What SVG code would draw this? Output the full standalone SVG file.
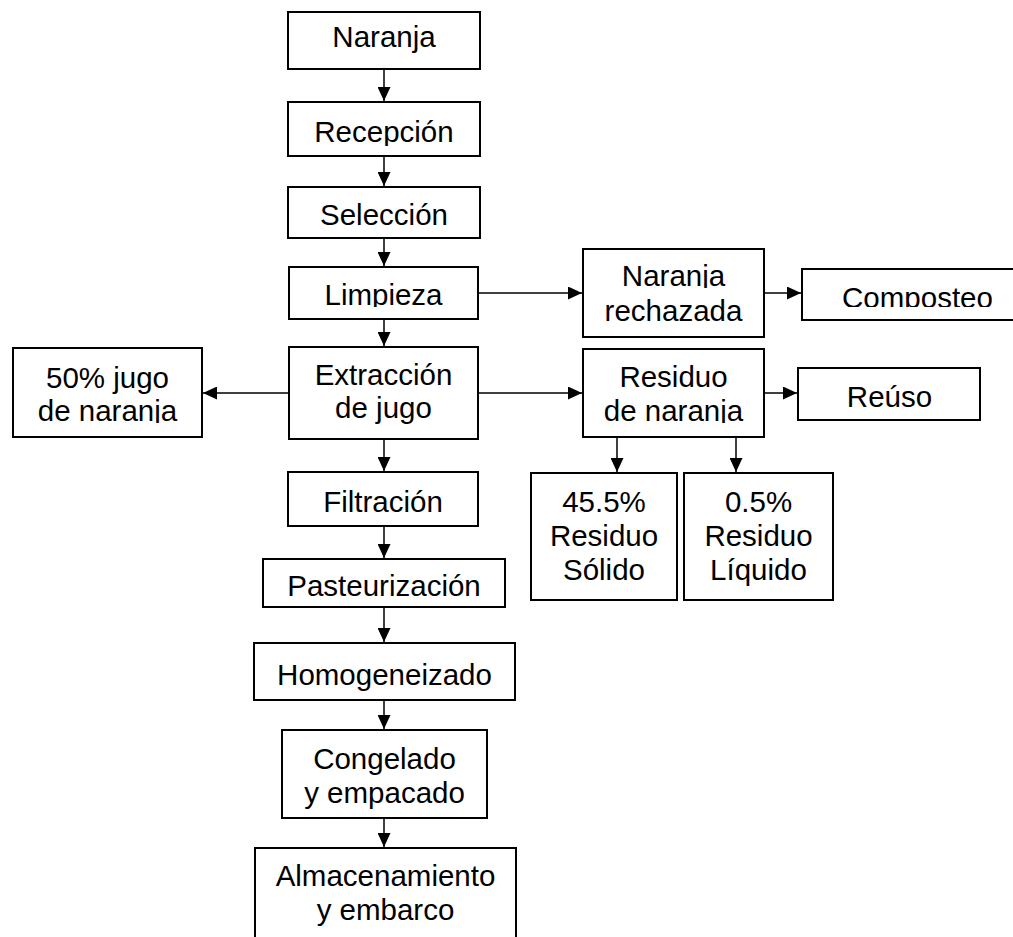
<svg xmlns="http://www.w3.org/2000/svg" width="1013" height="937" viewBox="0 0 1013 937">
<style>
.box{fill:#fff;stroke:#000;stroke-width:2}
.t{font-family:"Liberation Sans",Arial,sans-serif;font-size:29.5px;text-anchor:middle;fill:#000}
.c{stroke:#000;stroke-width:1.5;fill:none;marker-end:url(#ah)}
</style>
<defs>
<marker id="ah" viewBox="0 0 14 13" refX="14" refY="6.5" markerWidth="14" markerHeight="13" markerUnits="userSpaceOnUse" orient="auto"><path d="M0,0 L14,6.5 L0,13 z" fill="#000"/></marker>
<clipPath id="cRec"><rect x="280" y="100" width="210" height="46"/></clipPath>
<clipPath id="cLim"><rect x="280" y="260" width="210" height="47"/></clipPath>
<clipPath id="cNR"><rect x="570" y="240" width="200" height="48"/></clipPath>
<clipPath id="cCom"><rect x="800" y="260" width="220" height="47"/></clipPath>
<clipPath id="cRN"><rect x="570" y="395" width="200" height="28"/></clipPath>
<clipPath id="cJN"><rect x="0" y="395" width="210" height="28"/></clipPath>
<clipPath id="cPas"><rect x="250" y="550" width="260" height="46"/></clipPath>
</defs>
<rect width="1013" height="937" fill="#fff"/>
<g id="connectors">
<line class="c" x1="384" y1="70" x2="384" y2="101"/>
<line class="c" x1="384" y1="157" x2="384" y2="186"/>
<line class="c" x1="384" y1="239" x2="384" y2="266"/>
<line class="c" x1="384" y1="320" x2="384" y2="346"/>
<line class="c" x1="384" y1="440" x2="384" y2="471"/>
<line class="c" x1="384" y1="527" x2="384" y2="558"/>
<line class="c" x1="384" y1="608" x2="384" y2="642"/>
<line class="c" x1="384" y1="701" x2="384" y2="729"/>
<line class="c" x1="384" y1="819" x2="384" y2="847"/>
<line class="c" x1="479" y1="293" x2="582" y2="293"/>
<line class="c" x1="765" y1="293" x2="801" y2="293"/>
<line class="c" x1="288" y1="393" x2="203" y2="393"/>
<line class="c" x1="479" y1="393" x2="582" y2="393"/>
<line class="c" x1="765" y1="393" x2="797" y2="393"/>
<line class="c" x1="617" y1="438" x2="617" y2="472"/>
<line class="c" x1="736" y1="438" x2="736" y2="472"/>
</g>
<g id="n-naranja"><rect class="box" x="288" y="12" width="192" height="57"/><text class="t" x="384" y="47">Naranja</text></g>
<g id="n-recepcion"><rect class="box" x="288" y="102" width="192" height="54"/><g clip-path="url(#cRec)"><text class="t" x="384" y="142">Recepción</text></g></g>
<g id="n-seleccion"><rect class="box" x="288" y="187" width="192" height="51"/><text class="t" x="384" y="225">Selección</text></g>
<g id="n-limpieza"><rect class="box" x="289" y="267" width="189" height="52"/><g clip-path="url(#cLim)"><text class="t" x="383.5" y="305">Limpieza</text></g></g>
<g id="n-extraccion"><rect class="box" x="289" y="347" width="189" height="92"/><text class="t" x="383.5" y="385">Extracción</text><text class="t" x="383.5" y="418">de jugo</text></g>
<g id="n-jugo"><rect class="box" x="13" y="348" width="189" height="89"/><text class="t" x="107.5" y="388">50% jugo</text><g clip-path="url(#cJN)"><text class="t" x="107.5" y="421">de naranja</text></g></g>
<g id="n-rechazada"><rect class="box" x="583" y="249" width="181" height="88"/><g clip-path="url(#cNR)"><text class="t" x="673.5" y="286">Naranja</text></g><text class="t" x="673.5" y="321">rechazada</text></g>
<g id="n-composteo"><rect class="box" x="802" y="269" width="231" height="51"/><g clip-path="url(#cCom)"><text class="t" x="917.5" y="308">Composteo</text></g></g>
<g id="n-residuo"><rect class="box" x="583" y="349" width="181" height="88"/><text class="t" x="673.5" y="387">Residuo</text><g clip-path="url(#cRN)"><text class="t" x="673.5" y="421">de naranja</text></g></g>
<g id="n-reuso"><rect class="box" x="798" y="368" width="182" height="52"/><text class="t" x="889.5" y="407">Reúso</text></g>
<g id="n-solido"><rect class="box" x="531" y="473" width="146" height="127"/><text class="t" x="604" y="512">45.5%</text><text class="t" x="604" y="546">Residuo</text><text class="t" x="604" y="580">Sólido</text></g>
<g id="n-liquido"><rect class="box" x="684" y="473" width="149" height="127"/><text class="t" x="758.5" y="512">0.5%</text><text class="t" x="758.5" y="546">Residuo</text><text class="t" x="758.5" y="580">Líquido</text></g>
<g id="n-filtracion"><rect class="box" x="288" y="472" width="190" height="54"/><text class="t" x="383" y="512">Filtración</text></g>
<g id="n-pasteurizacion"><rect class="box" x="263" y="559" width="242" height="48"/><g clip-path="url(#cPas)"><text class="t" x="384" y="596">Pasteurización</text></g></g>
<g id="n-homogeneizado"><rect class="box" x="254" y="643" width="261" height="57"/><text class="t" x="384.5" y="685">Homogeneizado</text></g>
<g id="n-congelado"><rect class="box" x="282" y="730" width="205" height="88"/><text class="t" x="384.5" y="769">Congelado</text><text class="t" x="384.5" y="803">y empacado</text></g>
<g id="n-almacenamiento"><rect class="box" x="255" y="848" width="261" height="100"/><text class="t" x="385.5" y="886">Almacenamiento</text><text class="t" x="385.5" y="920">y embarco</text></g>
</svg>
